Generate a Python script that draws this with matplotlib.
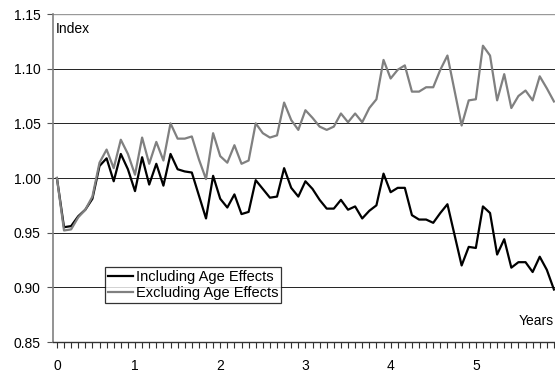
import numpy as np
import matplotlib
matplotlib.use("Agg")
import matplotlib.pyplot as plt

# =====================================
# DATA (monthly index values)
# =====================================

including_age = [
    1.000, 0.955, 0.956, 0.965, 0.971, 0.981, 1.011, 1.018, 0.997, 1.022,
    1.008, 0.988, 1.019, 0.994, 1.013, 0.993, 1.022, 1.008, 1.006, 1.005,
    0.984, 0.963, 1.002, 0.981, 0.973, 0.985, 0.967, 0.969, 0.998, 0.990,
    0.982, 0.983, 1.009, 0.991, 0.983, 0.997, 0.990, 0.980, 0.972, 0.972,
    0.980, 0.971, 0.974, 0.963, 0.970, 0.975, 1.004, 0.987, 0.991, 0.991,
    0.966, 0.962, 0.962, 0.959, 0.968, 0.976, 0.948, 0.920, 0.937, 0.936,
    0.974, 0.968, 0.930, 0.944, 0.918, 0.923, 0.923, 0.914, 0.928, 0.916,
    0.898,
]

excluding_age = [
    1.000, 0.952, 0.953, 0.964, 0.971, 0.983, 1.014, 1.026, 1.009, 1.035,
    1.022, 1.003, 1.037, 1.013, 1.033, 1.016, 1.050, 1.036, 1.036, 1.038,
    1.017, 0.999, 1.041, 1.020, 1.014, 1.030, 1.013, 1.016, 1.050, 1.041,
    1.037, 1.039, 1.069, 1.053, 1.044, 1.062, 1.055, 1.047, 1.044, 1.047,
    1.059, 1.051, 1.059, 1.051, 1.064, 1.072, 1.108, 1.091, 1.099, 1.103,
    1.079, 1.079, 1.083, 1.083, 1.099, 1.112, 1.080, 1.048, 1.071, 1.072,
    1.121, 1.112, 1.071, 1.095, 1.064, 1.075, 1.080, 1.071, 1.093, 1.082,
    1.070,
]

months = np.arange(len(including_age))
year_label_months = [0, 11, 23, 35, 47, 59]
year_labels = ["0", "1", "2", "3", "4", "5"]
y_ticks = [0.85, 0.90, 0.95, 1.00, 1.05, 1.10, 1.15]

# =====================================
# PLOT
# =====================================

plt.rcParams["font.family"] = ["Liberation Sans", "DejaVu Sans"]
plt.rcParams["font.size"] = 10

fig = plt.figure(figsize=(5.55, 3.73), dpi=100)
ax = fig.add_axes([53 / 555, 31 / 373, 502 / 555, 328 / 373])

ax.plot(months, including_age, color="black", lw=1.6, label="Including Age Effects", zorder=3)
ax.plot(months, excluding_age, color="#808080", lw=1.6, label="Excluding Age Effects", zorder=3)

ax.set_xlim(-0.55, 70.15)
ax.set_ylim(0.85, 1.15)

ax.set_yticks(y_ticks)
ax.set_yticklabels([f"{v:.2f}" for v in y_ticks])
for v in y_ticks[1:-1]:
    ax.axhline(v, color="#222222", lw=0.7, zorder=1)
ax.axhline(1.15, color="#999999", lw=1.0, zorder=1)

ax.set_xticks(year_label_months)
ax.set_xticklabels(year_labels)
ax.set_xticks(months, minor=True)
ax.tick_params(axis="x", which="both", direction="out", length=4, width=0.8, color="#333333", pad=8)
ax.tick_params(axis="y", direction="out", length=4, width=0.8, color="#555555", pad=5)

for side in ["top", "right"]:
    ax.spines[side].set_visible(False)
ax.spines["left"].set_color("#808080")
ax.spines["left"].set_linewidth(1.2)
ax.spines["bottom"].set_color("#333333")
ax.spines["bottom"].set_linewidth(1.0)

ax.text(0.005, 0.955, "Index", transform=ax.transAxes, ha="left", va="center")
ax.text(0.998, 0.065, "Years", transform=ax.transAxes, ha="right", va="center")

leg = ax.legend(loc="lower left", bbox_to_anchor=(0.1036, 0.119), borderaxespad=0,
                frameon=True, fancybox=False, handlelength=1.7, handletextpad=0.2,
                borderpad=0.2, labelspacing=0.15, fontsize=10.5)
leg.get_frame().set_edgecolor("black")
leg.get_frame().set_linewidth(0.9)

fig.savefig("out.png", dpi=100)
